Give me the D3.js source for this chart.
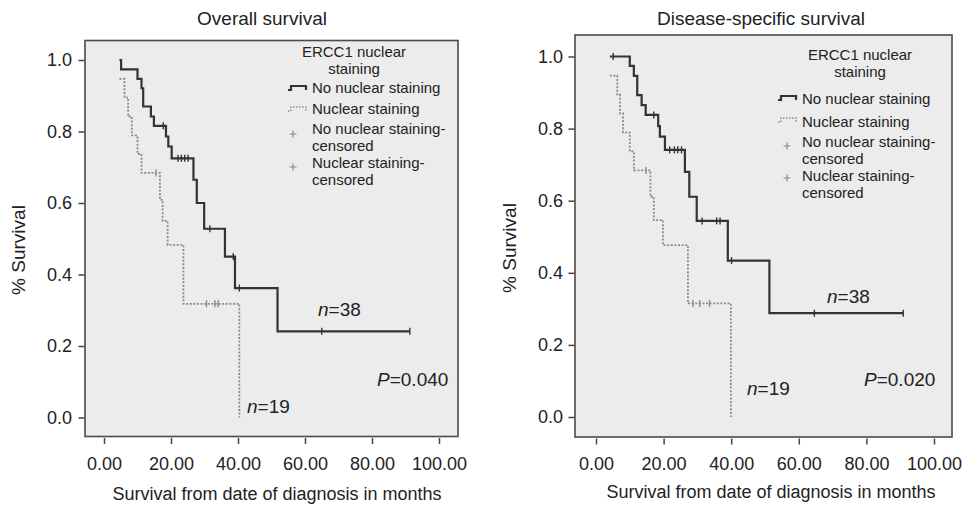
<!DOCTYPE html>
<html>
<head>
<meta charset="utf-8">
<script src="https://cdn.jsdelivr.net/npm/d3@7"></script>
<style>
    body { margin: 0; background: #fff; }
    text { font-family: "Liberation Sans", Arial, sans-serif; fill: #222; }
</style>
</head>
<body>
<svg id="chart" width="965" height="505"></svg>
<script>
// axis ticks
const xTicks = [0, 20, 40, 60, 80, 100];
const yTicks = [0, 0.2, 0.4, 0.6, 0.8, 1.0];

const legendTitle = ['ERCC1 nuclear', 'staining'];
const legendLabels = [['No nuclear staining'], ['Nuclear staining'], ['No nuclear staining-', 'censored'], ['Nuclear staining-', 'censored']];

const sampleSizes = [38, 19];
const pValues = ['0.040', '0.020'];

// Overall survival: [months, survival] steps
const osNoStain = [[4.6, 1.0], [5.1, 0.974], [10.0, 0.947], [11.2, 0.921], [11.7, 0.870], [14.0, 0.842], [14.9, 0.816],
    [18.5, 0.786], [19.2, 0.758], [20.2, 0.725], [26.7, 0.665], [27.7, 0.600], [29.9, 0.528], [36.1, 0.450],
    [39.1, 0.362], [51.8, 0.241], [91.3, 0.241]];
const osNoStainCensored = [17.7, 22.1, 23.1, 24.1, 25.1, 31.6, 38.6, 40.4, 65.0, 91.3];
const osStain = [[4.6, 0.947], [6.1, 0.895], [7.2, 0.842], [8.3, 0.789], [10.0, 0.737], [11.2, 0.684], [16.7, 0.609],
    [17.5, 0.550], [19.0, 0.483], [23.7, 0.318], [40.4, 0.0]];
const osStainCensored = [15.5, 30.6, 33.1, 34.1];

// Disease-specific survival
const dssNoStain = [[4.1, 1.0], [10.0, 0.974], [11.2, 0.946], [12.2, 0.893], [13.5, 0.865], [14.7, 0.838], [18.4, 0.807],
    [18.9, 0.778], [20.4, 0.741], [26.3, 0.680], [27.6, 0.611], [29.8, 0.544], [39.0, 0.434], [51.3, 0.288], [90.9, 0.288]];
const dssNoStainCensored = [5.1, 17.1, 21.8, 23.2, 24.2, 25.3, 31.4, 35.7, 36.7, 40.1, 64.6, 90.9];
const dssStain = [[4.1, 0.947], [6.3, 0.895], [7.1, 0.842], [8.0, 0.789], [10.0, 0.737], [11.2, 0.684], [16.1, 0.611],
    [17.1, 0.546], [19.8, 0.477], [27.2, 0.315], [39.9, 0.0]];
const dssStainCensored = [14.8, 28.7, 30.7, 33.6];

const solidColor = '#333';
const dottedColor = '#8a8a8a';

const svg = d3.select('#chart');

function survivalAt(steps, t) {
    let s = steps[0][1];
    steps.forEach(d => { if (d[0] <= t) s = d[1]; });
    return s;
}

// one text element, several lines as tspans
function multiLine(g, lines, x, ys, anchor) {
    const t = g.append('text')
        .attr('text-anchor', anchor)
        .style('font-size', '15px');
    lines.forEach((l, j) => {
        t.append('tspan').attr('x', x).attr('y', ys[j]).text(l);
    });
    return t;
}

function drawPanel(p) {
    const g = svg.append('g');
    const x = d3.scaleLinear().domain([0, 100]).range(p.xRange);
    const y = d3.scaleLinear().domain([0, 1]).range(p.yRange);

    g.append('rect')
        .attr('x', p.frame[0]).attr('y', p.frame[1])
        .attr('width', p.frame[2]).attr('height', p.frame[3])
        .attr('fill', '#ececec')
        .attr('stroke', '#4a4a4a')
        .attr('stroke-width', 1.6);

    g.append('text')
        .attr('x', p.titleX).attr('y', 25)
        .attr('text-anchor', 'middle')
        .style('font-size', '19px')
        .text(p.title);

    const xAxis = g.append('g')
        .attr('transform', `translate(0,${p.frame[1] + p.frame[3] + 1.5})`)
        .call(d3.axisBottom(x).tickValues(xTicks).tickFormat(d3.format('.2f')).tickSize(6).tickPadding(13));
    xAxis.select('.domain').remove();
    xAxis.selectAll('line').attr('stroke', '#444').attr('stroke-width', 1.5);
    xAxis.selectAll('text').style('font-size', '18px');

    const yAxis = g.append('g')
        .attr('transform', `translate(${p.frame[0] - 0.5},0)`)
        .call(d3.axisLeft(y).tickValues(yTicks).tickFormat(d3.format('.1f')).tickSize(6).tickPadding(p.yPad));
    yAxis.select('.domain').remove();
    yAxis.selectAll('line').attr('stroke', '#444').attr('stroke-width', 1.5);
    yAxis.selectAll('text').style('font-size', '18px');

    g.append('text')
        .attr('transform', `translate(${p.yLabel[0]},${p.yLabel[1]}) rotate(-90)`)
        .attr('text-anchor', 'middle')
        .style('font-size', '19px')
        .text('% Survival');

    g.append('text')
        .attr('x', p.xLabel[0]).attr('y', p.xLabel[1])
        .attr('text-anchor', 'middle')
        .style('font-size', '18px')
        .text('Survival from date of diagnosis in months');

    const line = d3.line()
        .x(d => x(d[0]))
        .y(d => y(d[1]))
        .curve(d3.curveStepAfter);

    const curves = [
        { steps: p.stain, censored: p.stainCensored, color: dottedColor, width: 1.8, dash: '2,1.6' },
        { steps: p.noStain, censored: p.noStainCensored, color: solidColor, width: 2.2, dash: null }
    ];

    curves.forEach(c => {
        g.append('path')
            .attr('d', line(c.steps))
            .attr('fill', 'none')
            .attr('stroke', c.color)
            .attr('stroke-width', c.width)
            .attr('stroke-dasharray', c.dash);

        g.selectAll(null)
            .data(c.censored)
            .enter().append('line')
            .attr('x1', d => x(d)).attr('x2', d => x(d))
            .attr('y1', d => y(survivalAt(c.steps, d)) - 3.5)
            .attr('y2', d => y(survivalAt(c.steps, d)) + 3.5)
            .attr('stroke', c.color)
            .attr('stroke-width', 1.4);
    });

    // legend
    const lg = p.legend;
    multiLine(g, legendTitle, lg.cx, lg.titleY, 'middle');
    legendLabels.forEach((lines, i) => {
        multiLine(g, lines, lg.tx, lg.rows[i], 'start');
    });
    [solidColor, dottedColor].forEach((c, i) => {
        const sy = lg.symbolY[i];
        g.append('path')
            .attr('d', `M${lg.sx},${sy + 4}H${lg.sx + 3}V${sy}H${lg.sx + 18}V${sy + 4}`)
            .attr('fill', 'none')
            .attr('stroke', c)
            .attr('stroke-width', i === 0 ? 2.2 : 1.5)
            .attr('stroke-dasharray', i === 0 ? null : '1.5,1.5');
    });
    lg.plusY.forEach(py => {
        g.append('path')
            .attr('d', `M${lg.px - 3.5},${py}H${lg.px + 3.5}M${lg.px},${py - 3.5}V${py + 3.5}`)
            .attr('stroke', '#888')
            .attr('stroke-width', 1.2);
    });

    // annotations
    p.nLabels.forEach((nl, i) => {
        const t = g.append('text')
            .attr('x', nl[0]).attr('y', nl[1])
            .style('font-size', '19px');
        t.append('tspan').style('font-style', 'italic').text('n');
        t.append('tspan').text('=' + sampleSizes[i]);
    });
    const pt = g.append('text')
        .attr('x', p.pLabel[0]).attr('y', p.pLabel[1])
        .style('font-size', '19px');
    pt.append('tspan').style('font-style', 'italic').text('P');
    pt.append('tspan').text('=' + p.pValue);
}

drawPanel({
    title: 'Overall survival',
    titleX: 262,
    frame: [85, 40.5, 373, 396],
    xRange: [104, 439],
    yRange: [417.5, 60],
    yPad: 6.5,
    yLabel: [25, 250],
    xLabel: [277, 500],
    noStain: osNoStain,
    noStainCensored: osNoStainCensored,
    stain: osStain,
    stainCensored: osStainCensored,
    legend: {
        cx: 354, titleY: [57, 74], tx: 312,
        rows: [[93], [114], [134, 151], [168, 185]],
        sx: 288, symbolY: [86, 107],
        px: 293, plusY: [134, 167]
    },
    nLabels: [[318, 316], [247, 413]],
    pLabel: [377, 386],
    pValue: pValues[0]
});

drawPanel({
    title: 'Disease-specific survival',
    titleX: 761,
    frame: [575, 35, 377, 402],
    xRange: [596, 934],
    yRange: [417, 56.5],
    yPad: 5.5,
    yLabel: [516, 248],
    xLabel: [771, 498],
    noStain: dssNoStain,
    noStainCensored: dssNoStainCensored,
    stain: dssStain,
    stainCensored: dssStainCensored,
    legend: {
        cx: 860, titleY: [60, 77], tx: 802,
        rows: [[104], [127], [147, 164], [181, 198]],
        sx: 778, symbolY: [96, 118],
        px: 787, plusY: [146, 178]
    },
    nLabels: [[827, 303], [747, 395]],
    pLabel: [864, 386],
    pValue: pValues[1]
});
</script>
</body>
</html>
